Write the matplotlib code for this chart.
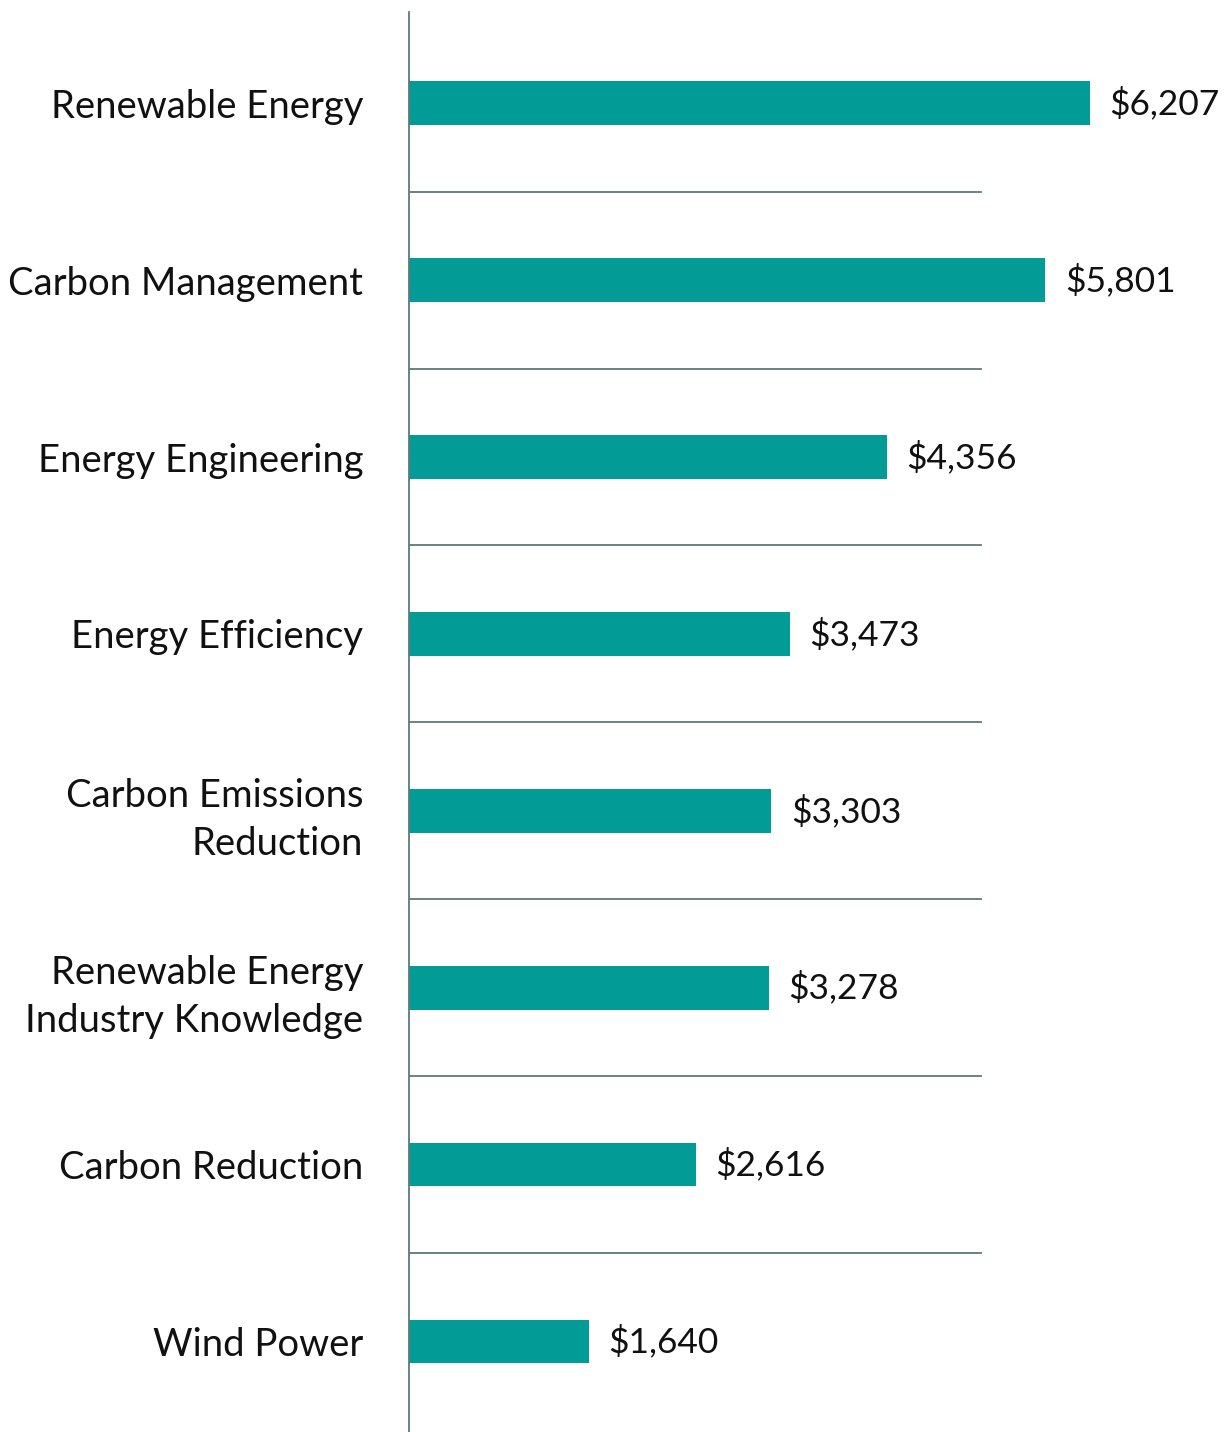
import matplotlib
matplotlib.use('Agg')
import matplotlib.pyplot as plt

# Data
categories = ['Renewable Energy', 'Carbon Management', 'Energy Engineering',
              'Energy Efficiency', 'Carbon Emissions\nReduction',
              'Renewable Energy\nIndustry Knowledge', 'Carbon Reduction', 'Wind Power']
values = [6207, 5801, 4356, 3473, 3303, 3278, 2616, 1640]
value_labels = ['$6,207', '$5,801', '$4,356', '$3,473', '$3,303', '$3,278', '$2,616', '$1,640']

bar_color = '#039b96'
line_color = '#5b7b79'

W, H = 1226, 1432
fig = plt.figure(figsize=(W / 100, H / 100), dpi=100)
ax = fig.add_axes([409 / W, 0, 1 - 409 / W, (H - 12) / H])

y = list(range(len(categories)))
ax.barh(y, values, height=0.245, color=bar_color)

# scale: bar of 6207 ends at px 1090
px_per_unit = (1090 - 409) / 6207
ax.set_xlim(0, (W - 409) / px_per_unit)
ax.set_ylim(len(categories) - 0.49, -0.515)

# separators between rows
sep_end = (981 - 409) / px_per_unit
for i in range(len(categories) - 1):
    ax.plot([0, sep_end], [i + 0.5, i + 0.5], color=line_color, lw=1.3)

for yi, v, lab in zip(y, values, value_labels):
    ax.annotate(lab, (v, yi), xytext=(14, 0), textcoords='offset points',
                va='center', ha='left', fontsize=25.5, family='Lato', color='#111111')

ax.set_yticks(y)
ax.set_yticklabels(categories, fontsize=27.5, family='Lato', color='#111111',
                   linespacing=1.4)
ax.tick_params(axis='y', length=0, pad=33)
ax.set_xticks([])

for s in ['top', 'right', 'bottom']:
    ax.spines[s].set_visible(False)
ax.spines['left'].set_color(line_color)
ax.spines['left'].set_linewidth(1.3)

fig.savefig('out.png', dpi=100)
